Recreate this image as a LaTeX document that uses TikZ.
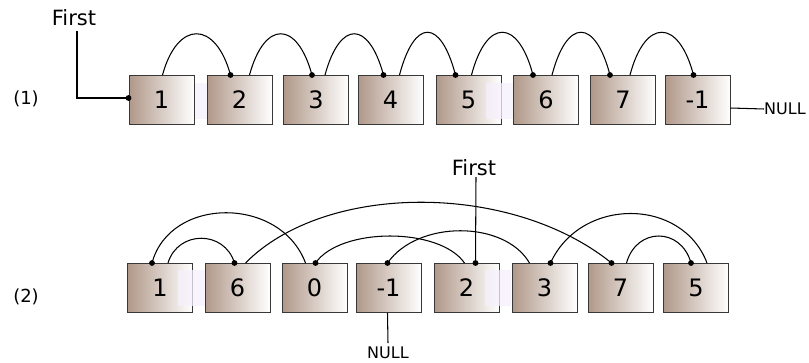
\documentclass[tikz,border=0pt]{standalone}
\usepackage{fontspec}
\setmainfont{DejaVu Sans}
\definecolor{boxbrown}{RGB}{176,152,137}
\definecolor{boxedge}{RGB}{55,55,55}
\definecolor{lavfill}{RGB}{246,240,252}
\tikzset{
  cell/.style={rectangle, draw=boxedge, line width=1pt, left color=boxbrown, right color=white,
    minimum width=65pt, minimum height=49pt, inner sep=0pt, font=\fontsize{24}{24}\selectfont},
  link/.style={draw=black, line width=1.05pt},
  lbl/.style={font=\fontsize{21}{21}\selectfont, inner sep=0pt},
  rowlbl/.style={font=\fontsize{18}{18}\selectfont, inner sep=0pt},
  nulltxt/.style={font=\fontsize{16}{16}\selectfont, inner sep=0pt},
  haze/.style={fill=lavfill, fill opacity=0.75, draw=none}
}
\newcommand{\pdot}[1]{\fill #1 circle (2.9pt);}
\begin{document}
\begin{tikzpicture}[x=1pt,y=-1pt]
\useasboundingbox (0,0) rectangle (809,362);

% ---------- row (1): list in order ----------
\node[rowlbl] (r1) at (26,99) {(1)};
\node[cell] (a1) at (161.5,100) {1};
\node[cell] (a2) at (239.5,100) {2};
\node[cell] (a3) at (316,100) {3};
\node[cell] (a4) at (390.5,100) {4};
\node[cell] (a5) at (468.5,100) {5};
\node[cell] (a6) at (546,100) {6};
\node[cell] (a7) at (623,100) {7};
\node[cell] (a8) at (697.5,100) {-1};
\fill[haze] (195,83) rectangle (207,119);
\fill[haze] (486,83) rectangle (513,119);

\node[lbl] (f1) at (74,18) {First};
\coordinate (f1top) at (77,31);
\draw[link] (f1top) |- ([yshift=2pt]a1.west);
\pdot{([yshift=2pt]a1.west)}

\node[nulltxt, anchor=west] (n1) at (764,109) {NULL};
\draw[link] ([yshift=-8pt]a8.east) -- (n1.west);

\draw[link] ([xshift=34pt]a1.north west) .. controls +(15,-55) and +(-15,-55) .. ([xshift=24pt]a2.north west);
\pdot{([xshift=24pt]a2.north west)}
\draw[link] ([xshift=43pt]a2.north west) .. controls +(15,-55) and +(-15,-55) .. ([xshift=29pt]a3.north west);
\pdot{([xshift=29pt]a3.north west)}
\draw[link] ([xshift=42pt]a3.north west) .. controls +(15,-55) and +(-15,-55) .. ([xshift=26pt]a4.north west);
\pdot{([xshift=26pt]a4.north west)}
\draw[link] ([xshift=42pt]a4.north west) .. controls +(15,-57) and +(-15,-57) .. ([xshift=20pt]a5.north west);
\pdot{([xshift=20pt]a5.north west)}
\draw[link] ([xshift=36pt]a5.north west) .. controls +(15,-57) and +(-15,-57) .. ([xshift=20pt]a6.north west);
\pdot{([xshift=20pt]a6.north west)}
\draw[link] ([xshift=39pt]a6.north west) .. controls +(15,-57) and +(-15,-57) .. ([xshift=20pt]a7.north west);
\pdot{([xshift=20pt]a7.north west)}
\draw[link] ([xshift=40pt]a7.north west) .. controls +(15,-57) and +(-15,-57) .. ([xshift=29pt]a8.north west);
\pdot{([xshift=29pt]a8.north west)}

% ---------- row (2): list scattered in memory ----------
\node[rowlbl] (r2) at (26,297) {(2)};
\node[cell] (b1) at (160,288) {1};
\node[cell] (b6) at (237.5,288) {6};
\node[cell] (b0) at (314.5,288) {0};
\node[cell] (bm) at (388.5,288) {-1};
\node[cell] (b2) at (466.5,288) {2};
\node[cell] (b3) at (544.5,288) {3};
\node[cell] (b7) at (620.5,288) {7};
\node[cell] (b5) at (696,288) {5};
\fill[haze] (178,270) rectangle (205,306);
\fill[haze] (485,270) rectangle (511,306);

\node[lbl] (f2) at (474,168) {First};
\coordinate (f2top) at (476,177);
\draw[link] (f2top) -- ([xshift=42pt]b2.north west);
\pdot{([xshift=42pt]b2.north west)}

\node[nulltxt] (n2) at (388,353) {NULL};
\coordinate (n2top) at (388,343);
\draw[link] ([xshift=32pt]bm.south west) -- (n2top);

% 0 -> 1
\draw[link] ([xshift=24pt]b0.north west) .. controls +(-25,-67) and +(18,-67) .. ([xshift=25pt]b1.north west);
\pdot{([xshift=25pt]b1.north west)}
% 1 -> 6
\draw[link] ([xshift=41pt]b1.north west) .. controls +(10,-33) and +(-10,-33) .. ([xshift=30pt]b6.north west);
\pdot{([xshift=30pt]b6.north west)}
% 6 -> 7
\draw[link] ([xshift=41pt]b6.north west) .. controls +(80,-81) and +(-100,-81) .. ([xshift=24pt]b7.north west);
\pdot{([xshift=24pt]b7.north west)}
% 2 -> 0
\draw[link] ([xshift=31pt]b2.north west) .. controls +(-25,-36) and +(25,-36) .. ([xshift=34pt]b0.north west);
\pdot{([xshift=34pt]b0.north west)}
% 3 -> -1
\draw[link] ([xshift=18pt]b3.north west) .. controls +(-25,-43) and +(30,-43) .. ([xshift=32pt]bm.north west);
\pdot{([xshift=32pt]bm.north west)}
% 5 -> 3
\draw[link] ([xshift=44pt]b5.north west) .. controls +(-25,-66) and +(30,-66) .. ([xshift=39pt]b3.north west);
\pdot{([xshift=39pt]b3.north west)}
% 7 -> 5
\draw[link] ([xshift=39pt]b7.north west) .. controls +(10,-36) and +(-10,-36) .. ([xshift=28pt]b5.north west);
\pdot{([xshift=28pt]b5.north west)}
\end{tikzpicture}
\end{document}
